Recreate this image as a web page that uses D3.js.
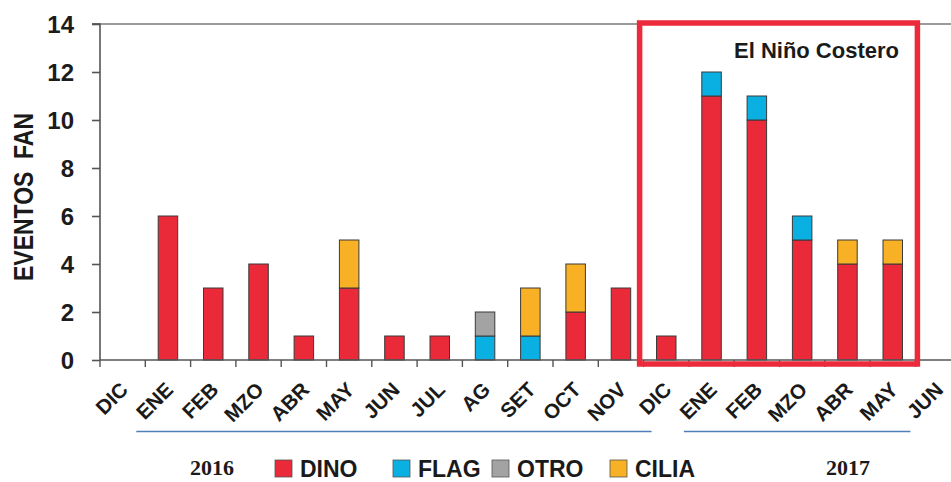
<!DOCTYPE html>
<html>
<head>
<meta charset="utf-8">
<script src="https://cdn.jsdelivr.net/npm/d3@7"></script>
<style>
  html, body { margin: 0; padding: 0; background: #fff; }
  svg { display: block; }
</style>
</head>
<body>
<svg id="chart" width="951" height="482"></svg>
<script>
// Monthly harmful algal bloom events (FAN) by group, Dec 2015 – Jun 2017
const months = ["DIC", "ENE", "FEB", "MZO", "ABR", "MAY", "JUN", "JUL", "AG", "SET", "OCT", "NOV",
                "DIC", "ENE", "FEB", "MZO", "ABR", "MAY", "JUN"];
const dino  = [0, 6, 3, 4, 1, 3, 1, 1, 0, 0, 2, 3, 1, 11, 10, 5, 4, 4, 0];
const flag  = [0, 0, 0, 0, 0, 0, 0, 0, 1, 1, 0, 0, 0, 1, 1, 1, 0, 0, 0];
const otro  = [0, 0, 0, 0, 0, 0, 0, 0, 1, 0, 0, 0, 0, 0, 0, 0, 0, 0, 0];
const cilia = [0, 0, 0, 0, 0, 2, 0, 0, 0, 2, 2, 0, 0, 0, 0, 0, 1, 1, 0];
const seriesNames = ["DINO", "FLAG", "OTRO", "CILIA"];
const seriesColors = ["#ea2939", "#0bb0e2", "#a3a3a3", "#f8b124"];
const yTicks = [0, 2, 4, 6, 8, 10, 12, 14];
const yearLabels = ["2016", "2017"];
const boxLabel = "El Niño Costero";

const svg = d3.select("#chart");
const W = 951;

const plotLeft = 100, plotTop = 24, plotBottom = 360;
const step = 45.3;
const keys = months.map((m, i) => i);

const x = d3.scaleBand().domain(keys).range([plotLeft, plotLeft + step * months.length]).padding(0);
const y = d3.scaleLinear().domain([0, 14]).range([plotBottom, plotTop]);

const rows = keys.map(i => ({ i, DINO: dino[i], FLAG: flag[i], OTRO: otro[i], CILIA: cilia[i] }));
const stacked = d3.stack().keys(seriesNames)(rows);

const plot = svg.append("g");

// top border line at 14
plot.append("line")
  .attr("x1", plotLeft - 8).attr("x2", W)
  .attr("y1", y(14)).attr("y2", y(14))
  .attr("stroke", "#7a7a7a").attr("stroke-width", 1.6);

// bars
const barW = 19.5;
stacked.forEach((s, si) => {
  plot.append("g").selectAll("rect")
    .data(s.filter(d => d[1] > d[0]))
    .join("rect")
    .attr("x", d => x(d.data.i) + x.bandwidth() / 2 - barW / 2)
    .attr("width", barW)
    .attr("y", d => y(d[1]))
    .attr("height", d => y(d[0]) - y(d[1]))
    .attr("fill", seriesColors[si])
    .attr("stroke", "#3a3a3a")
    .attr("stroke-width", 1);
});

// y axis
const yAxis = d3.axisLeft(y).tickValues(yTicks).tickSize(8).tickPadding(18);
const gy = svg.append("g").attr("transform", `translate(${plotLeft},0)`).call(yAxis);
gy.select(".domain").attr("stroke", "#555").attr("stroke-width", 1.6).attr("d", `M-8,${y(14)}H0V${y(0)}`);
gy.selectAll(".tick line").attr("stroke", "#555").attr("stroke-width", 1.6);
gy.selectAll(".tick text")
  .attr("font-family", "'Liberation Sans', Arial, sans-serif")
  .attr("font-weight", "bold").attr("font-size", 24).attr("fill", "#1c1c1c")
  .attr("dy", "0.36em");

// x axis with ticks at category boundaries
const gx = svg.append("g");
gx.append("line")
  .attr("x1", plotLeft).attr("x2", W)
  .attr("y1", y(0)).attr("y2", y(0))
  .attr("stroke", "#555").attr("stroke-width", 1.6);
gx.selectAll("line.tk")
  .data(keys.concat([months.length]))
  .join("line").attr("class", "tk")
  .attr("x1", i => plotLeft + i * step).attr("x2", i => plotLeft + i * step)
  .attr("y1", y(0)).attr("y2", y(0) + 7)
  .attr("stroke", "#555").attr("stroke-width", 1.4);
gx.selectAll("text")
  .data(keys)
  .join("text")
  .attr("transform", i => `translate(${x(i) + x.bandwidth() / 2 + 6.5},${y(0) + 31}) rotate(-45)`)
  .attr("text-anchor", "end")
  .attr("font-family", "'Liberation Sans', Arial, sans-serif")
  .attr("font-weight", "bold").attr("font-size", 20.5).attr("fill", "#1a1a1a")
  .text(i => months[i]);

// y axis title
svg.append("text")
  .attr("transform", `translate(33,197) rotate(-90)`)
  .attr("text-anchor", "middle")
  .attr("font-family", "'Liberation Sans', Arial, sans-serif")
  .attr("font-weight", "bold").attr("font-size", 28).attr("fill", "#1a1a1a")
  .attr("textLength", 168).attr("lengthAdjust", "spacingAndGlyphs")
  .style("white-space", "pre")
  .text("EVENTOS  FAN");

// El Niño Costero highlight box
const bx0 = x(12) - 4, bx1 = x(18) + 2;
svg.append("rect")
  .attr("x", bx0).attr("y", y(14) - 1)
  .attr("width", bx1 - bx0).attr("height", y(0) + 4 - (y(14) - 1))
  .attr("fill", "none").attr("stroke", "#ec2a3b").attr("stroke-width", 5.5);
svg.append("text")
  .attr("x", 899).attr("y", 58)
  .attr("text-anchor", "end")
  .attr("font-family", "'Liberation Sans', Arial, sans-serif")
  .attr("font-weight", "bold").attr("font-size", 22).attr("fill", "#1a1a1a")
  .text(boxLabel);

// year underlines: [first boundary, last boundary, start offset, end offset]
const yearSpans = [[1, 12, -9, 8], [13, 18, -5, -5]];
const boundary = i => plotLeft + i * step;
svg.selectAll("line.yr")
  .data(yearSpans)
  .join("line").attr("class", "yr")
  .attr("x1", d => boundary(d[0]) + d[2]).attr("x2", d => boundary(d[1]) + d[3])
  .attr("y1", 431.5).attr("y2", 431.5)
  .attr("stroke", "#4f7fb8").attr("stroke-width", 1.5);

svg.selectAll("text.yr")
  .data(yearLabels)
  .join("text").attr("class", "yr")
  .attr("x", (d, i) => i === 0 ? 212 : 848).attr("y", 475)
  .attr("text-anchor", "middle")
  .attr("font-family", "'Liberation Serif', 'Times New Roman', serif")
  .attr("font-weight", "bold").attr("font-size", 22).attr("fill", "#1a1a1a")
  .text(d => d);

// legend
const legendX = [275, 393, 492, 610];
const lg = svg.append("g");
seriesNames.forEach((name, i) => {
  lg.append("rect")
    .attr("x", legendX[i]).attr("y", 460)
    .attr("width", 17).attr("height", 17)
    .attr("fill", seriesColors[i]).attr("stroke", "#555").attr("stroke-width", 0.8);
  lg.append("text")
    .attr("x", legendX[i] + 25).attr("y", 477)
    .attr("font-family", "'Liberation Sans', Arial, sans-serif")
    .attr("font-weight", "bold").attr("font-size", 23).attr("fill", "#1a1a1a")
    .text(name);
});
</script>
</body>
</html>
